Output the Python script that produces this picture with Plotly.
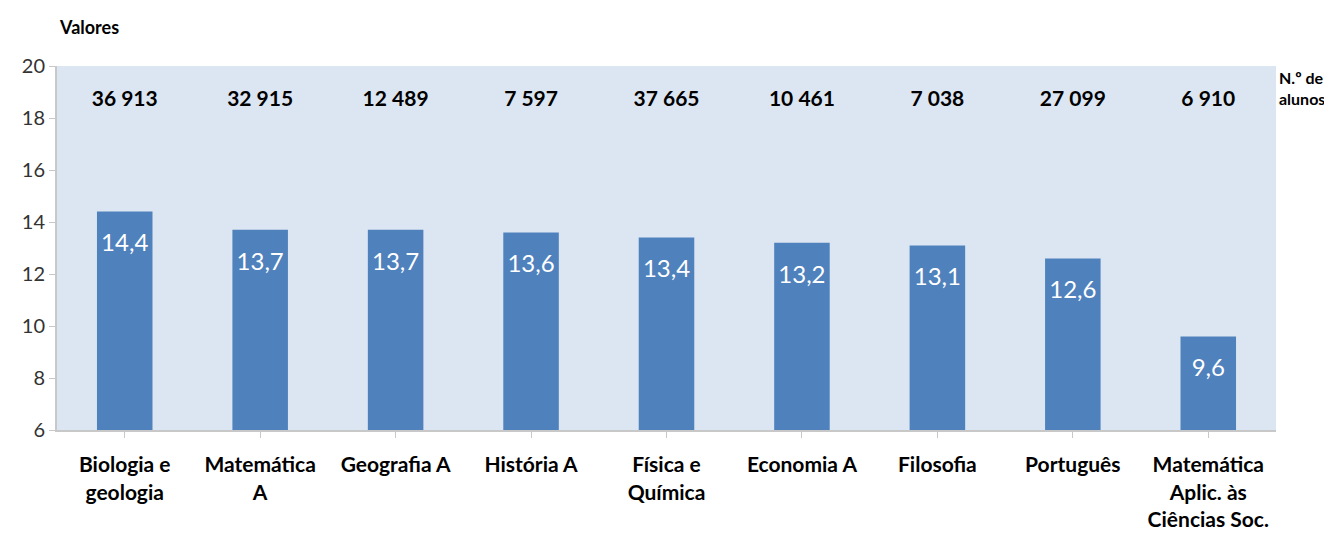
import plotly.graph_objects as go

categories = ["Biologia e<br>geologia", "Matemática<br>A", "Geografia A", "História A",
              "Física e<br>Química", "Economia A", "Filosofia", "Português",
              "Matemática<br>Aplic. às<br>Ciências Soc."]
medias = [14.4, 13.7, 13.7, 13.6, 13.4, 13.2, 13.1, 12.6, 9.6]
alunos = [36913, 32915, 12489, 7597, 37665, 10461, 7038, 27099, 6910]
y_ticks = [6, 8, 10, 12, 14, 16, 18, 20]

FONT = "Lato"
BAR = "#4F81BD"

fig = go.Figure()
fig.add_trace(go.Bar(
    x=categories, y=medias, marker=dict(color=BAR, line=dict(width=0)),
    base=0, hoverinfo="skip", showlegend=False,
))
# value labels inside bars
fig.add_trace(go.Scatter(
    x=categories, y=[m - 1.3 for m in medias], mode="text",
    text=[f"{m:.1f}".replace(".", ",") for m in medias],
    textfont=dict(family=FONT, size=24, color="white"),
    hoverinfo="skip", showlegend=False,
))
# student counts
fig.add_trace(go.Scatter(
    x=categories, y=[18.65] * len(categories), mode="text",
    text=[f"{a:,}".replace(",", " ") for a in alunos],
    textfont=dict(family=FONT, size=21, color="black", weight="bold"),
    hoverinfo="skip", showlegend=False,
))

fig.update_layout(
    width=1316, height=528,
    margin=dict(l=49, r=48, t=58, b=106),
    paper_bgcolor="white", plot_bgcolor="#DCE6F2",
    bargap=0.59,
    font=dict(family=FONT),
    xaxis=dict(
        showgrid=False, showline=True, linecolor="#C8C8C8", linewidth=2,
        ticks="outside", ticklen=6, tickcolor="#C8C8C8",
        tickfont=dict(family=FONT, size=21, color="black", weight="bold"),
        ticklabelstandoff=9, automargin=False,
        fixedrange=True,
    ),
    yaxis=dict(
        range=[6, 20], tickvals=y_ticks, showgrid=False, showline=True,
        linecolor="#C8C8C8", linewidth=2, ticks="outside", ticklen=6,
        tickcolor="#C8C8C8", tickfont=dict(family=FONT, size=20, color="#333333"),
        zeroline=False, automargin=False,
    ),
    annotations=[
        dict(text="<b>Valores</b>", xref="paper", yref="paper", x=0.0, y=1.0,
             yshift=39, xanchor="left", yanchor="middle", showarrow=False,
             font=dict(family=FONT, size=18, color="black")),
        dict(text="<b>N.º de<br>alunos</b>", xref="paper", yref="paper", x=1.0,
             y=1.0, xshift=1, xanchor="left", yanchor="top", showarrow=False,
             align="left", font=dict(family=FONT, size=16, color="black")),
    ],
)

fig.write_html("out.html")
